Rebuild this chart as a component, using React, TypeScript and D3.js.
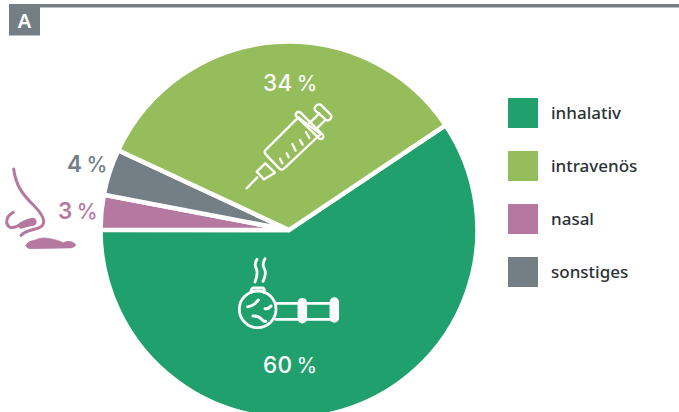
import React from "react";
import * as d3 from "d3";

const categories = ["inhalativ", "nasal", "sonstiges", "intravenös"];
const values = [60, 3, 4, 34];
const colors = ["#1fa06c", "#b5789f", "#737f85", "#95bd5b"];
const legendOrder = ["inhalativ", "intravenös", "nasal", "sonstiges"];
const labels = ["60", "3", "4", "34"];

const W = 679, H = 412;
const cx = 289, cy = 230, R = 188.5;
const start = (56.2 * Math.PI) / 180;

const pie = d3.pie<number>().sort(null).startAngle(start).endAngle(start + 2 * Math.PI);
const arc = d3.arc<d3.PieArcDatum<number>>().innerRadius(0).outerRadius(R);
const legendY = d3.scalePoint<string>().domain(legendOrder).range([113, 272]);
const colorOf = d3.scaleOrdinal<string, string>().domain(categories).range(colors);
const labelPos: Record<string, [number, number, string, number]> = {
  "60": [263, 365, "#fff", 500],
  "34": [263, 83, "#fff", 500],
  "4": [67, 164, "#737f85", 600],
  "3": [58, 211, "#b5789f", 600],
};

export default function App() {
  const arcs = pie(values);
  const font = "'Noto Sans', sans-serif";
  const pct = "'Inter', sans-serif";
  return (
    <svg width={W} height={H} viewBox={`0 0 ${W} ${H}`} style={{ position: "fixed", left: 0, top: 0, background: "#fff" }}>
      <rect x={9} y={4} width={670} height={3.5} fill="#737f85" />
      <rect x={9} y={4} width={31} height={31.5} fill="#737f85" />
      <text x={24.5} y={27.5} textAnchor="middle" fontFamily={font} fontWeight={600} fontSize={20} fill="#fff">A</text>

      <g transform={`translate(${cx},${cy})`}>
        {arcs.map((a, i) => (
          <path key={categories[i]} d={arc(a) || ""} fill={colors[i]} stroke="#fff" strokeWidth={4.5} strokeLinejoin="miter" />
        ))}
      </g>

      {labels.map((l) => (
        <text key={l} x={labelPos[l][0]} y={labelPos[l][1]} dy="0.36em" fontFamily={pct} fontWeight={labelPos[l][3]} fontSize={22.5} letterSpacing={0.4} fill={labelPos[l][2]} >
          {l}
          <tspan dx={4} fontSize={21} fontWeight={labelPos[l][3] - 100}>%</tspan>
        </text>
      ))}

      {/* syringe */}
      <g transform="translate(230,60) scale(0.3333)" fill="none" stroke="#fff" strokeWidth={7} strokeLinecap="round" strokeLinejoin="round">
        <path d="M50,385 L82,352" />
        <path d="M80,335 L106,310 L135,338 L102,358 Z" />
        <path d="M105,272 Q102,278 108,284 L148,326 Q155,332 162,326 L272,222 L205,172 Z" />
        <path d="M200,158 Q207,152 214,160 L278,224 Q284,232 276,236 Q270,240 264,232 L200,170 Q194,164 200,158 Z" />
        <path d="M238,190 L268,160 M258,208 L286,180" />
        <path d="M254,142 Q262,130 272,134 L302,164 Q308,172 298,180 Q290,184 284,176 L256,152 Q252,148 254,142 Z" />
        <path d="M157,310 L150,296 M176,292 L170,280 M197,272 L187,252 M218,254 L210,240 M238,234 L228,216" />
      </g>

      {/* pipe */}
      <g transform="translate(225,250) scale(0.3333)" fill="none" stroke="#fff" strokeWidth={8.5} strokeLinecap="round" strokeLinejoin="round">
        <path d="M78,128 Q78,116 84,114 L112,114 Q120,116 118,128" />
        <circle cx={98} cy={178} r={55} />
        <path d="M155,160 L325,160 M152,208 L325,208" />
        <rect x={222} y={148} width={20} height={68} rx={10} fill="#fff" />
        <rect x={318} y={146} width={20} height={68} rx={10} fill="#fff" />
        <path d="M96,28 Q86,42 94,56 Q100,70 90,96 M120,26 Q110,42 118,56 Q126,70 114,94" />
        <path d="M68,170 Q84,170 100,150 M120,176 Q130,178 138,168 M84,198 Q100,196 110,208 Q118,216 122,214" strokeWidth={9} />
      </g>

      {/* nose */}
      <g transform="translate(0,140) scale(0.3333)" fill="none" stroke="#b5789f" strokeWidth={9} strokeLinecap="round" strokeLinejoin="round">
        <path d="M41,87 C48,140 70,165 100,195 C125,220 137,240 128,255 C120,270 85,265 63,286" />
        <path d="M40,217 C18,228 14,252 30,262 C42,266 50,258 66,252 L98,242" />
        <path d="M60,253 Q80,240 100,238 Q110,245 102,252 Q80,256 62,262 Z" fill="#b5789f" />
        <path d="M78,316 Q82,304 106,300 Q124,290 150,296 Q175,300 190,308 Q212,298 228,314 Q222,326 200,324 L90,326 Q80,326 78,316 Z" fill="#b5789f" strokeWidth={2} />
      </g>

      {legendOrder.map((c) => (
        <g key={c}>
          <rect x={508} y={(legendY(c) as number) - 15} width={30} height={30} fill={colorOf(c)} />
          <text x={551} y={legendY(c) as number} dy="0.35em" fontFamily={font} fontWeight={500} fontSize={17} fill="#2b3236">{c}</text>
        </g>
      ))}
    </svg>
  );
}
